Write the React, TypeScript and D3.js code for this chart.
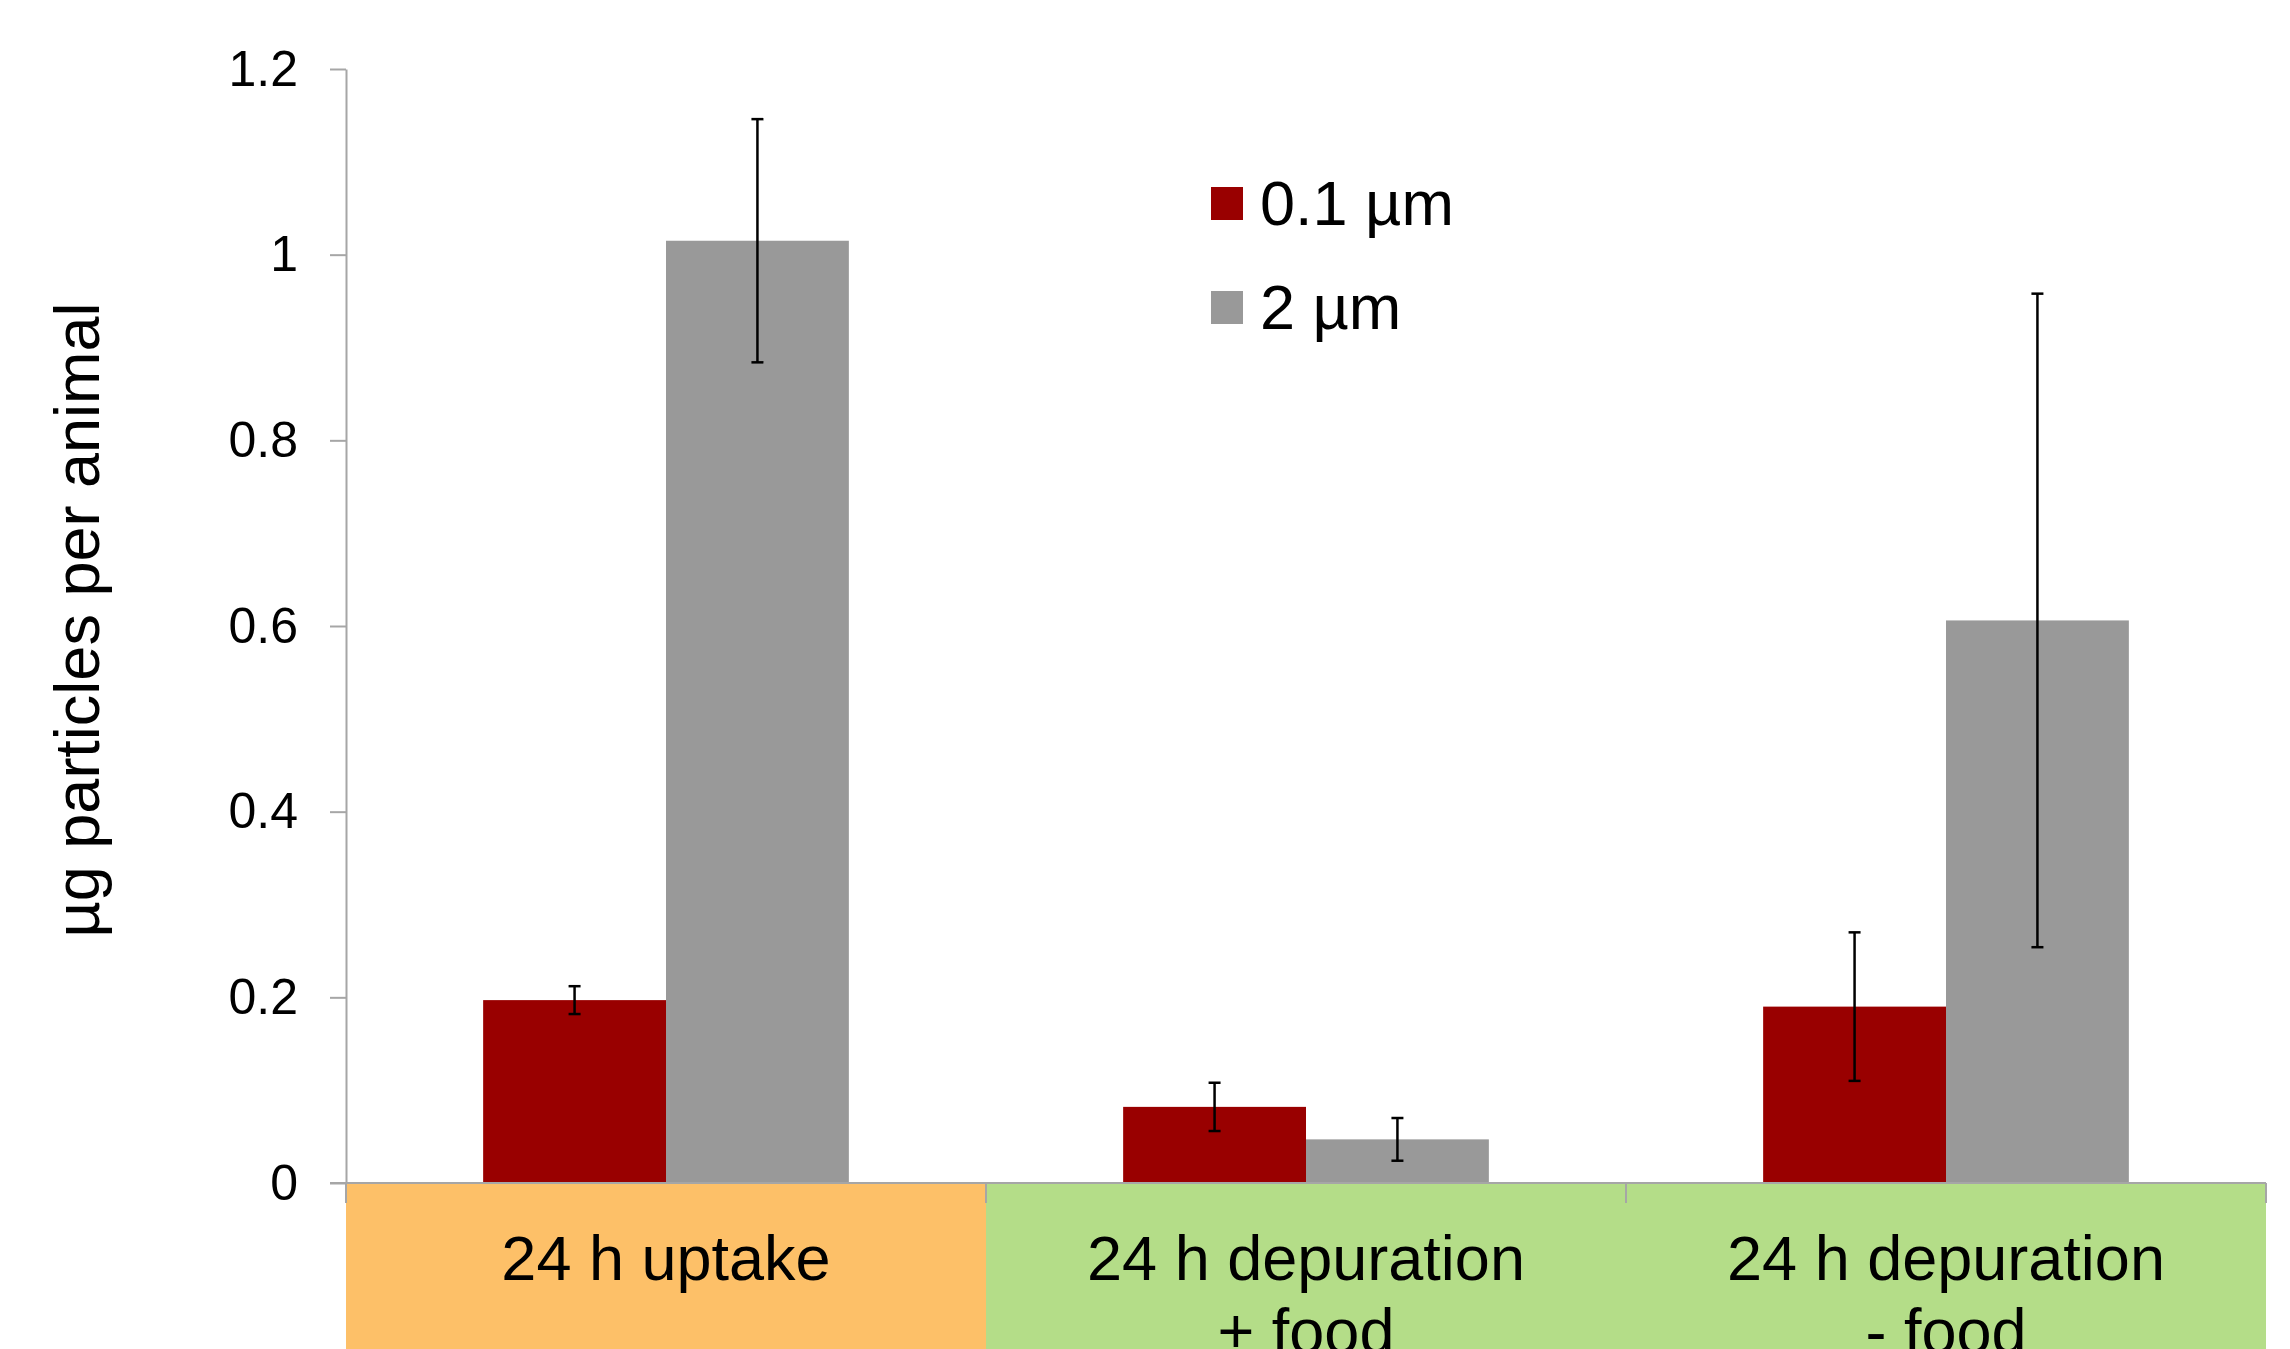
import { useEffect, useRef } from 'react';
import * as d3 from 'd3';

// category labels (line breaks as in the original axis)
const categories = ['24 h uptake', '24 h depuration\n+ food', '24 h depuration\n- food'];
const seriesNames = ['0.1 µm', '2 µm'];
const seriesColors = ['#990000', '#999999'];
const small = [0.197, 0.082, 0.19];
const smallErr = [0.015, 0.026, 0.08];
const large = [1.015, 0.047, 0.606];
const largeErr = [0.131, 0.023, 0.352];
const yTicks = [0, 0.2, 0.4, 0.6, 0.8, 1, 1.2];
const categoryFills = ['#fdc068', '#b4dd88', '#b4dd88'];

const W = 2290;
const H = 1349;
const FONT = '"Liberation Sans", Arial, sans-serif';

interface Bar {
  cat: string;
  series: string;
  value: number;
  err: number;
  color: string;
}

const bars: Bar[] = categories.flatMap((cat, i) => [
  { cat, series: seriesNames[0], value: small[i], err: smallErr[i], color: seriesColors[0] },
  { cat, series: seriesNames[1], value: large[i], err: largeErr[i], color: seriesColors[1] },
]);

export default function App() {
  const svgRef = useRef<SVGSVGElement>(null);

  useEffect(() => {
    if (!svgRef.current) return;
    const svg = d3.select(svgRef.current);
    svg.selectAll('*').remove();

    const left = 346;
    const right = 2266;
    const top = 69;
    const bottom = 1183;

    const y = d3.scaleLinear().domain([0, 1.2]).range([bottom, top]);
    const x = d3.scaleBand<string>().domain(categories).range([left, right]).padding(0);
    const xs = d3
      .scaleBand<string>()
      .domain(seriesNames)
      .range([0, x.bandwidth()])
      .paddingInner(0)
      .paddingOuter(0.75);

    // category boxes under the axis
    svg
      .append('g')
      .selectAll('rect')
      .data(categories)
      .join('rect')
      .attr('x', (d) => x(d)!)
      .attr('y', bottom + 1)
      .attr('width', x.bandwidth())
      .attr('height', H - bottom)
      .attr('fill', (_, i) => categoryFills[i]);

    // bars
    svg
      .append('g')
      .selectAll('rect')
      .data(bars)
      .join('rect')
      .attr('x', (d) => x(d.cat)! + xs(d.series)!)
      .attr('y', (d) => y(d.value))
      .attr('width', xs.bandwidth())
      .attr('height', (d) => bottom - y(d.value))
      .attr('fill', (d) => d.color);

    // error bars
    const eb = svg
      .append('g')
      .attr('stroke', '#000')
      .attr('stroke-width', 2.5)
      .selectAll('g')
      .data(bars)
      .join('g')
      .attr('transform', (d) => `translate(${x(d.cat)! + xs(d.series)! + xs.bandwidth() / 2},0)`);
    eb.append('line')
      .attr('y1', (d) => y(d.value + d.err))
      .attr('y2', (d) => y(d.value - d.err));
    eb.append('line')
      .attr('x1', -6)
      .attr('x2', 6)
      .attr('y1', (d) => y(d.value + d.err))
      .attr('y2', (d) => y(d.value + d.err));
    eb.append('line')
      .attr('x1', -6)
      .attr('x2', 6)
      .attr('y1', (d) => y(d.value - d.err))
      .attr('y2', (d) => y(d.value - d.err));

    // y axis
    const yAxis = svg
      .append('g')
      .attr('transform', `translate(${left},0)`)
      .call(
        d3
          .axisLeft(y)
          .tickValues(yTicks)
          .tickSize(16)
          .tickSizeOuter(0)
          .tickPadding(32)
          .tickFormat((d) => String(+(+d).toFixed(1)))
      );
    yAxis.select('.domain').attr('stroke', '#a6a6a6').attr('stroke-width', 2);
    yAxis.selectAll('.tick line').attr('stroke', '#a6a6a6').attr('stroke-width', 2);
    yAxis
      .selectAll('.tick text')
      .attr('fill', '#000')
      .attr('font-size', 50)
      .attr('font-family', FONT);

    // x axis line + category separators
    svg
      .append('line')
      .attr('x1', left - 16)
      .attr('x2', right)
      .attr('y1', bottom)
      .attr('y2', bottom)
      .attr('stroke', '#a6a6a6')
      .attr('stroke-width', 2);
    svg
      .append('g')
      .selectAll('line')
      .data([...categories.map((c) => x(c)!), right])
      .join('line')
      .attr('x1', (d) => d)
      .attr('x2', (d) => d)
      .attr('y1', bottom)
      .attr('y2', bottom + 20)
      .attr('stroke', '#a6a6a6')
      .attr('stroke-width', 2);

    // category labels
    const labels = svg
      .append('g')
      .selectAll('text')
      .data(categories)
      .join('text')
      .attr('text-anchor', 'middle')
      .attr('font-size', 63)
      .attr('font-family', FONT)
      .attr('fill', '#000');
    labels
      .selectAll('tspan')
      .data((d) => d.split('\n').map((line) => ({ line, cx: x(d)! + x.bandwidth() / 2 })))
      .join('tspan')
      .attr('x', (d) => d.cx)
      .attr('y', (_, i) => 1280 + i * 73)
      .text((d) => d.line);

    // y title
    svg
      .append('text')
      .attr('transform', 'translate(99,620) rotate(-90)')
      .attr('text-anchor', 'middle')
      .attr('font-size', 63)
      .attr('font-family', FONT)
      .attr('fill', '#000')
      .text('µg particles per animal');

    // legend
    const legend = svg
      .append('g')
      .selectAll('g')
      .data(seriesNames)
      .join('g')
      .attr('transform', (_, i) => `translate(1211,${187 + i * 104})`);
    legend
      .append('rect')
      .attr('width', 32)
      .attr('height', 33)
      .attr('fill', (_, i) => seriesColors[i]);
    legend
      .append('text')
      .attr('x', 49)
      .attr('y', 38)
      .attr('font-size', 63)
      .attr('font-family', FONT)
      .attr('fill', '#000')
      .text((d) => d);
  }, []);

  return (
    <svg
      ref={svgRef}
      width={W}
      height={H}
      style={{ position: 'fixed', top: 0, left: 0, background: '#fff' }}
    />
  );
}
